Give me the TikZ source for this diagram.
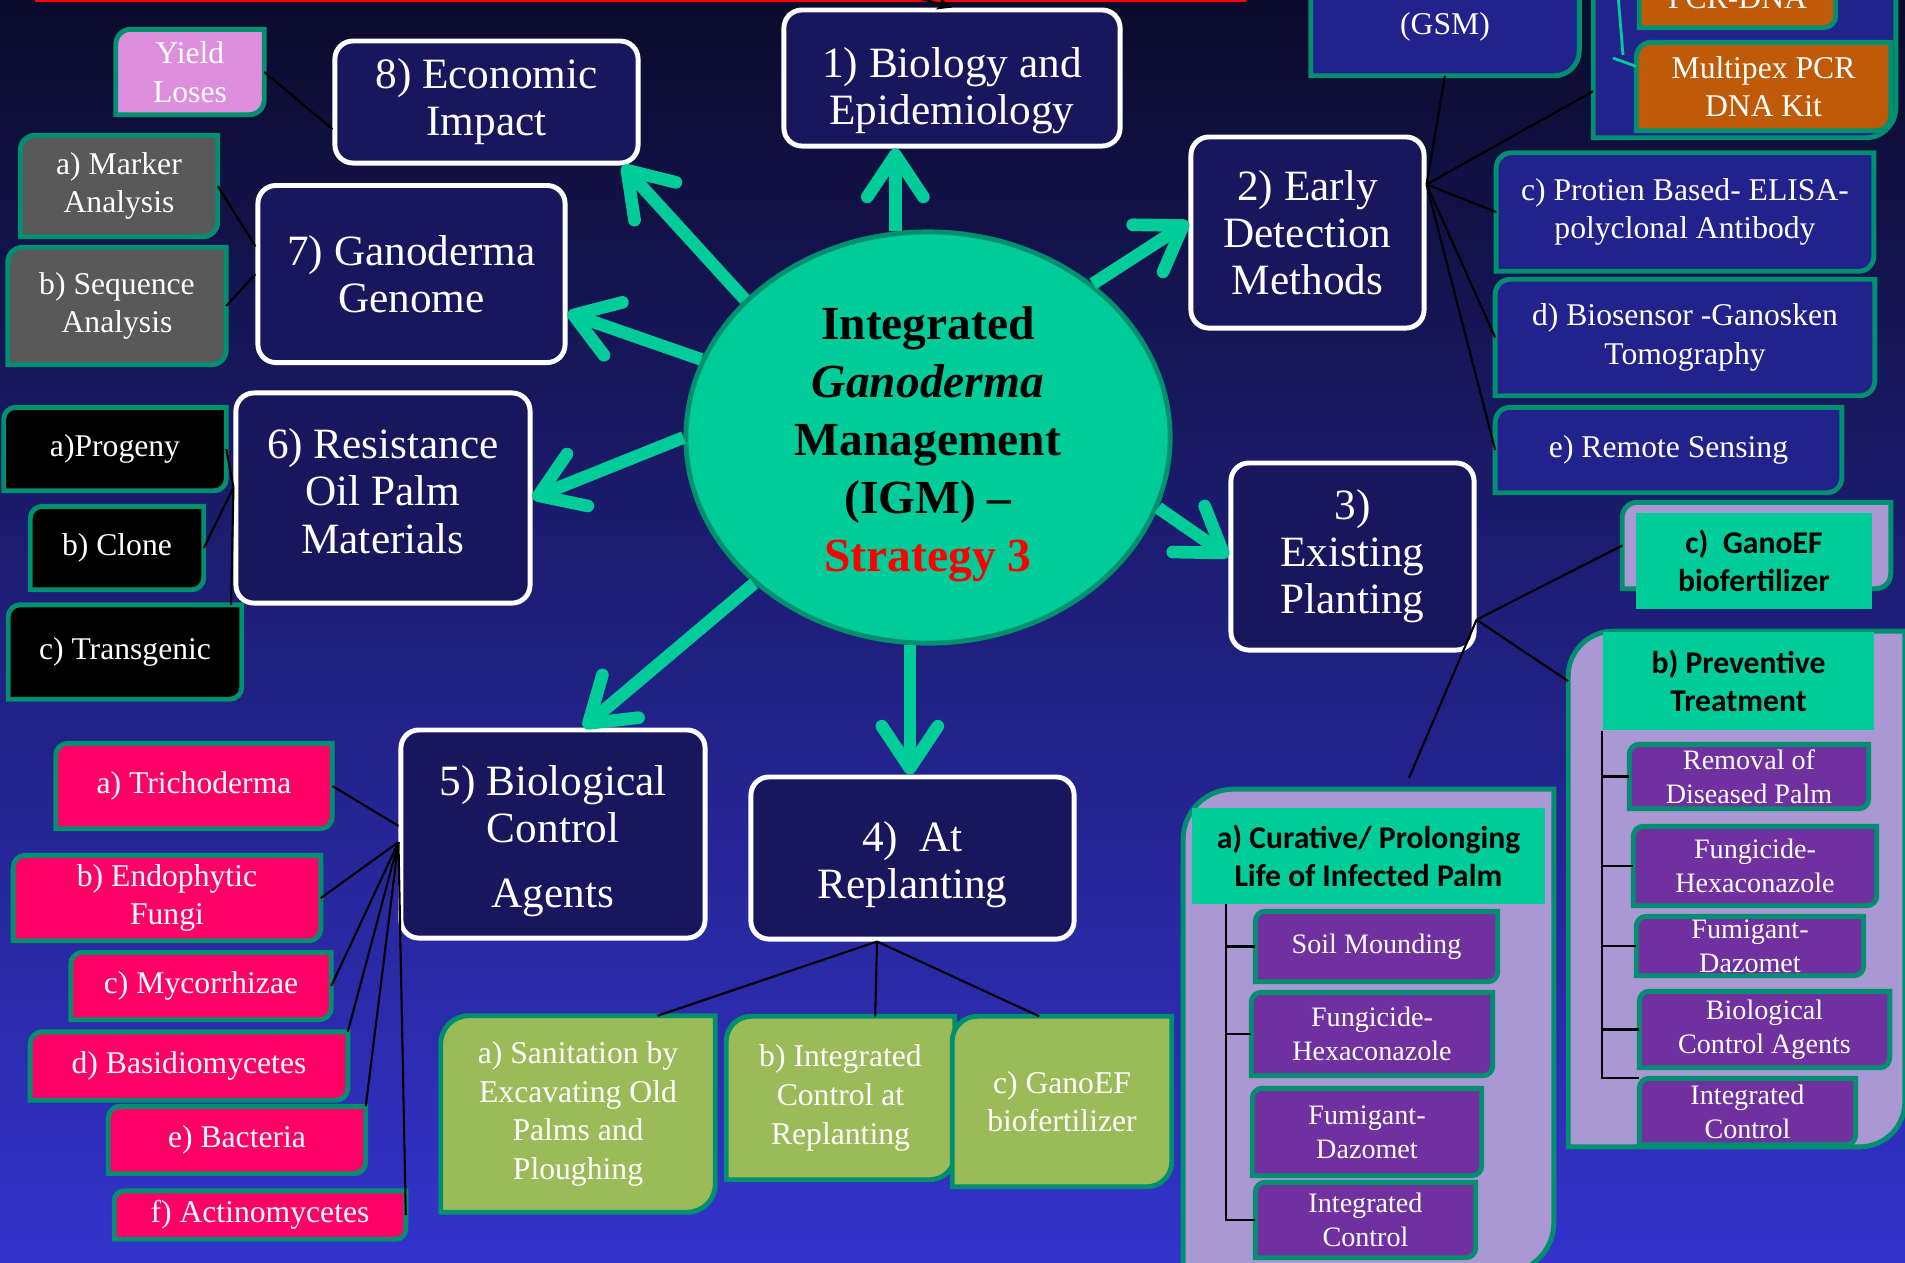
\documentclass[tikz,border=0pt]{standalone}
\usepackage{fontspec}
\setmainfont{Liberation Serif}
\newfontfamily\headfont{Carlito}
\usetikzlibrary{arrows.meta,backgrounds,shapes.geometric}

\definecolor{bgtop}{RGB}{11,11,44}
\definecolor{bgmid}{RGB}{33,33,134}
\definecolor{bgbot}{RGB}{51,51,204}
\definecolor{boxnavy}{RGB}{24,22,92}
\definecolor{igmteal}{RGB}{0,204,153}
\definecolor{edgeteal}{RGB}{0,144,112}
\definecolor{subblue}{RGB}{34,34,140}
\definecolor{yieldpink}{RGB}{221,143,221}
\definecolor{markgrey}{RGB}{89,89,89}
\definecolor{agentpink}{RGB}{255,0,102}
\definecolor{sitegreen}{RGB}{155,187,89}
\definecolor{kitorange}{RGB}{190,90,8}
\definecolor{panellilac}{RGB}{170,152,212}
\definecolor{itempurple}{RGB}{112,48,160}

\begin{document}
\begin{tikzpicture}[
	x=0.01cm, y=-0.01cm,
	wh/.style 2 args={ minimum width=#1cm, minimum height=#2cm },
	mainbox/.style={ rectangle, rounded corners=0.18cm, draw=white, line width=1.4pt, fill=boxnavy, text=white, align=center, inner sep=1pt, font=\fontsize{12.3}{13.4}\selectfont },
	subtext/.style={ rectangle, text=white, align=center, inner sep=0pt, font=\fontsize{9}{11}\selectfont },
	itemtext/.style={ subtext, font=\fontsize{8}{9.6}\selectfont },
	headbox/.style={ rectangle, fill=igmteal, text=black, align=center, inner sep=0pt, font=\headfont\bfseries\fontsize{9}{10.7}\selectfont },
	panelspot/.style={ rectangle, inner sep=0pt },
	panel/.style={ draw=edgeteal, line width=1.4pt },
	spoke/.style={ draw=igmteal, line width=3.6pt, -{Straight Barb[length=4.2mm,width=5.6mm,round]} },
	link/.style={ draw=black, line width=0.6pt }
]
\path[use as bounding box] (0,0) rectangle (1905,1262);

% centre
\node at (928,437.5) (igm) [ellipse, draw=edgeteal, line width=1.4pt, fill=igmteal, wh={4.84}{4.11}, align=center, inner sep=0pt, font=\bfseries\fontsize{13.5}{16.5}\selectfont]
	{\rule{0pt}{13pt}Integrated\\\textit{Ganoderma}\\Management\\(IGM) --\\\textcolor{red}{Strategy 3}};

% eight topics
\node at (952,78) (bio) [mainbox, wh={3.36}{1.36}] {\rule{0pt}{15.5pt}1) Biology and\\Epidemiology};
\node at (1307.5,232.5) (early) [mainbox, wh={2.33}{1.91}] {2) Early\\Detection\\Methods};
\node at (1352.5,556.5) (exist) [mainbox, wh={2.43}{1.87}] {3)\\Existing\\Planting};
\node at (912.5,858) (rep) [mainbox, wh={3.23}{1.62}] {\rule{0pt}{12.5pt}4)~~At\\Replanting};
\node at (553,834) (bca) [mainbox, wh={3.04}{2.08}] {\rule{0pt}{12.5pt}5) Biological\\Control\\[5pt]Agents};
\node at (383,498) (res) [mainbox, wh={2.94}{2.10}] {6) Resistance\\Oil Palm\\Materials\rule[-4pt]{0pt}{4pt}};
\node at (411.5,274) (gen) [mainbox, wh={3.07}{1.77}] {7) Ganoderma\\Genome};
\node at (486.5,102) (econ) [mainbox, wh={3.03}{1.22}] {8) Economic\\Impact};

\draw[spoke] (igm.99) -- (igm.99 |- bio.south);
\draw[spoke] (igm.43) -- (early.175);
\draw[spoke] (igm.343) -- (exist.west);
\draw[spoke] (igm.265) -- (igm.265 |- rep.north);
\draw[spoke] (igm.220) -- (bca.74);
\draw[spoke] (igm.180) -- (res.east);
\draw[spoke] (igm.161) -- (gen.346);
\draw[spoke] (igm.143) -- (econ.335);

% economic impact and genome
\node at (190,72) (yield) [subtext, wh={1.47}{0.84}] {Yield\\Loses};
\node at (119,186) (mark) [subtext, wh={1.96}{1.00}] {a) Marker\\Analysis};
\node at (117,306) (seq) [subtext, wh={2.17}{1.16}] {b) Sequence\\Analysis};

% resistant materials
\node at (115,449) (prog) [subtext, wh={2.21}{0.82}] {a)Progeny};
\node at (117,548) (clone) [subtext, wh={1.72}{0.82}] {b) Clone};
\node at (125,652) (trans) [subtext, wh={2.32}{0.93}] {c) Transgenic};

% biological control agents
\node at (194,786) (tri) [subtext, wh={2.75}{0.84}] {a) Trichoderma};
\node at (167,898) (endo) [subtext, wh={3.06}{0.84}] {b) Endophytic\\Fungi};
\node at (201,986) (myc) [subtext, wh={2.59}{0.66}] {c) Mycorrhizae};
\node at (189,1066) (basi) [subtext, wh={3.16}{0.67}] {d) Basidiomycetes};
\node at (237,1140) (bact) [subtext, wh={2.56}{0.66}] {e) Bacteria};
\node at (260,1215) (acti) [subtext, wh={2.90}{0.47}] {f) Actinomycetes};

% at replanting
\node at (578,1114) (sanit) [subtext, wh={2.73}{1.95}] {a) Sanitation by\\Excavating Old\\Palms and\\Ploughing};
\node at (840.5,1098) (intrep) [subtext, wh={2.27}{1.62}] {b) Integrated\\Control at\\Replanting};
\node at (1062,1101.5) (ganorep) [subtext, wh={2.18}{1.69}] {c) GanoEF\\biofertilizer};

% early detection
\node at (1445,7.5) (gsm) [subtext, wh={2.67}{1.35}] {Selective Media\\(GSM)};
\node at (1744.5,53.5) (pcrpanel) [panelspot, wh={3.01}{1.67}] {};
\node at (1737.5,-2) (pcr) [subtext, wh={1.95}{0.58}] {PCR-DNA};
\node at (1763.5,86.5) (mpcr) [subtext, wh={2.53}{0.87}] {Multipex PCR\\DNA Kit};
\node at (1685,212) (prot) [subtext, wh={3.76}{1.17}] {c) Protien Based- ELISA-\\polyclonal Antibody};
\node at (1685,337.5) (bios) [subtext, wh={3.78}{1.15}] {d) Biosensor -Ganosken\\Tomography};
\node at (1668.5,450) (rem) [subtext, wh={3.45}{0.84}] {e) Remote Sensing};

% existing planting
\node at (1756.5,545.5) (ganopanel) [panelspot, wh={2.67}{0.85}] {};
\node at (1754,561) (ganohead) [headbox, wh={2.36}{0.96}] {c)~~GanoEF\\biofertilizer};

\node at (1736.5,889) (prevpanel) [panelspot, wh={3.35}{5.14}] {};
\node at (1738.5,681) (prevhead) [headbox, wh={2.71}{0.98}] {b) Preventive\\Treatment};
\node at (1749,776.5) (prem) [itemtext, wh={2.38}{0.63}] {Removal of\\Diseased Palm};
\node at (1755,866) (pfun) [itemtext, wh={2.42}{0.78}] {Fungicide-\\Hexaconazole};
\node at (1750,946) (pfum) [itemtext, wh={2.26}{0.58}] {Fumigant-\\Dazomet};
\node at (1764.5,1029.5) (pbio) [itemtext, wh={2.49}{0.75}] {Biological\\Control Agents};
\node at (1747.5,1111.5) (pint) [itemtext, wh={2.15}{0.65}] {Integrated\\Control};

\node at (1368.5,1031) (curpanel) [panelspot, wh={3.69}{4.82}] {};
\node at (1368.5,856) (curhead) [headbox, wh={3.53}{0.96}] {a) Curative/ Prolonging\\Life of Infected Palm};
\node at (1376.5,946.5) (csoil) [itemtext, wh={2.41}{0.69}] {Soil Mounding};
\node at (1372,1034) (cfun) [itemtext, wh={2.40}{0.82}] {Fungicide-\\Hexaconazole};
\node at (1367,1132) (cfum) [itemtext, wh={2.28}{0.86}] {Fumigant-\\Dazomet};
\node at (1365.5,1220) (cint) [itemtext, wh={2.19}{0.74}] {Integrated\\Control};

% links to the sub-topics
\draw[link] (yield.east) -- (econ.190);
\draw[link] (mark.east) -- (gen.170);
\draw[link] (seq.east) -- (gen.west);
\foreach \p in {prog.east,clone.east,trans.24} \draw[link] (\p) -- (res.176);
\draw[link] (tri.east) -- (bca.177);
\foreach \p in {endo.east,myc.east,basi.north east,bact.north east,acti.east} \draw[link] (\p) -- (bca.183);
\foreach \p in {sanit.51,intrep.67,ganorep.105} \draw[link] (rep.247) -- (\p);
\foreach \p in {gsm.south,pcrpanel.194,prot.west,bios.west,rem.west} \draw[link] (early.22) -- (\p);
\coordinate (curtop) at (1409,778);
\foreach \p in {ganopanel.west,prevpanel.129,curtop} \draw[link] (exist.333) -- (\p);

% treatment lists
\draw[link] (prevhead.south west) |- (pint.north west);
\foreach \b in {prem,pfun,pfum,pbio} \draw[link] (prevhead.south west |- \b.west) -- (\b.west);
\coordinate (curstem) at (1226,904);
\draw[link] (curstem) |- (cint.west);
\foreach \b in {csoil,cfun} \draw[link] (curstem |- \b.west) -- (\b.west);

% kit brackets
\coordinate (pcrstem) at (1618,-5);
\coordinate (pcrfoot) at (1623,55);
\coordinate (pcrtick) at (1613,58);
\draw[igmteal, line width=0.8pt] (pcrstem) -- (pcrfoot);
\draw[igmteal, line width=0.8pt] (pcrtick) -- (mpcr.171);

% feed into topic 1
\coordinate (topfeed) at (850,-8);
\draw[link, -{Stealth[length=1.5mm,width=1.3mm]}] (topfeed) to[bend left=8] (bio.north);

\begin{scope}[on background layer]
	\shade[top color=bgtop, middle color=bgmid, bottom color=bgbot] (0,0) rectangle (1905,1262);
	\fill[red] (35,-10) rectangle (1246,2);
	% panels first, then the boxes, corners rounded top left and bottom right
	\foreach \nm/\c/\r in {
		pcrpanel/subblue/0.3cm, ganopanel/panellilac/0.15cm, prevpanel/panellilac/0.45cm, curpanel/panellilac/0.5cm,
		yield/yieldpink/0.15cm, mark/markgrey/0.15cm, seq/markgrey/0.15cm,
		prog/black/0.12cm, clone/black/0.12cm, trans/black/0.12cm,
		tri/agentpink/0.12cm, endo/agentpink/0.12cm, myc/agentpink/0.12cm, basi/agentpink/0.12cm, bact/agentpink/0.12cm, acti/agentpink/0.1cm,
		sanit/sitegreen/0.28cm, intrep/sitegreen/0.25cm, ganorep/sitegreen/0.25cm,
		gsm/subblue/0.25cm, pcr/kitorange/0.12cm, mpcr/kitorange/0.15cm, prot/subblue/0.15cm, bios/subblue/0.15cm, rem/subblue/0.15cm,
		prem/itempurple/0.1cm, pfun/itempurple/0.1cm, pfum/itempurple/0.1cm, pbio/itempurple/0.1cm, pint/itempurple/0.1cm,
		csoil/itempurple/0.1cm, cfun/itempurple/0.1cm, cfum/itempurple/0.1cm, cint/itempurple/0.1cm}
		\draw[panel, fill=\c] (\nm.west)
			[rounded corners=\r] -- (\nm.north west)
			[sharp corners] -- (\nm.north east)
			[rounded corners=\r] -- (\nm.south east)
			[sharp corners] -- (\nm.south west) -- cycle;
\end{scope}

\end{tikzpicture}
\end{document}
